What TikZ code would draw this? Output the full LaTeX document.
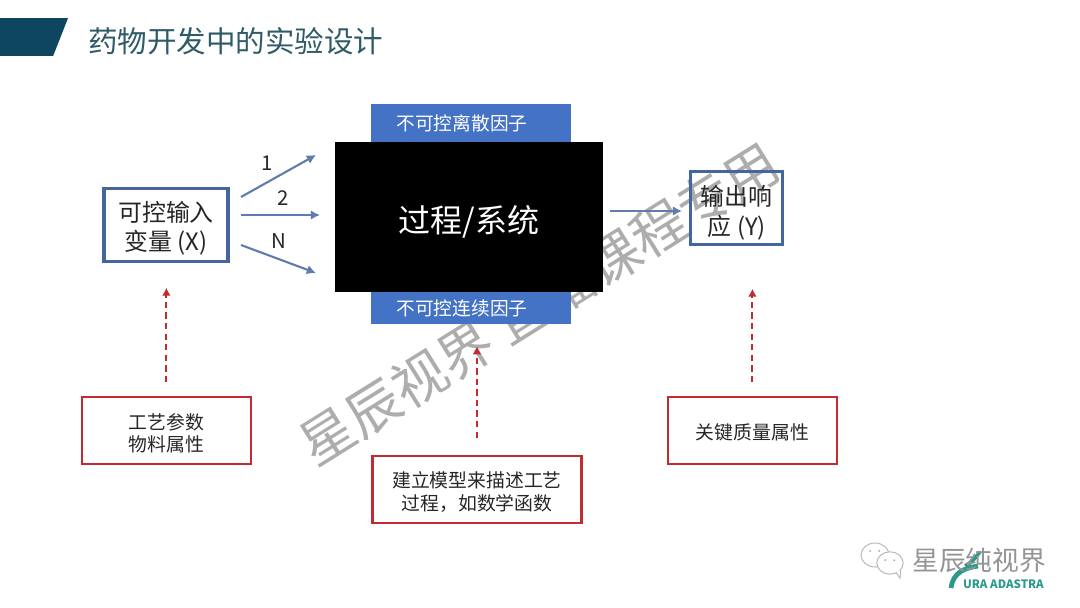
\documentclass[tikz,border=0pt]{standalone}
\usepackage{fontspec}
\setmainfont{Noto Sans CJK SC}
\usetikzlibrary{arrows.meta,calc,positioning}
\definecolor{Banner}{HTML}{0E4560}
\definecolor{TitleInk}{HTML}{2F5A68}
\definecolor{Frame}{HTML}{44659E}
\definecolor{Band}{HTML}{4472C4}
\definecolor{Alert}{HTML}{C22B30}
\definecolor{Ink}{HTML}{262626}
\definecolor{Teal}{HTML}{2B9A8C}
\tikzset{
  flowarrow/.style={-{Latex[length=2.3mm,width=2.4mm]},line width=1.5pt,draw=Frame!85},
  hintarrow/.style={-{Latex[length=2mm,width=2.2mm]},line width=1.5pt,draw=Alert,dash pattern=on 4.5pt off 3pt},
  framebox/.style={draw=Frame,line width=2.2pt,align=center,text=Ink,font=\fontsize{17}{21}\selectfont,inner sep=0pt},
  bandbox/.style={fill=Band,text=white,minimum width=5cm,font=\fontsize{13.3}{16}\selectfont,inner sep=0pt},
  hintbox/.style={draw=Alert,line width=1.6pt,align=center,text=Ink,font=\fontsize{13.4}{16}\selectfont,inner sep=0pt,minimum height=1.67cm},
  countlabel/.style={text=Ink,font=\fontsize{14.5}{17}\selectfont,inner sep=0pt},
  watermark/.style={text=black!32,font=\fontsize{38.5}{44}\selectfont,rotate=32,inner sep=0pt},
  bubble/.style={draw=black!28,line width=0.7pt,fill=white},
}
\begin{document}
\begin{tikzpicture}[x=1cm,y=1cm]
    \useasboundingbox (0,0) rectangle (27,15.175);
    % stamp lies under the blocks
    \node[watermark] (stamp) at (13.48,7.58) {星辰视界 直播课程专用};

    % header
    \fill[Banner] (0,14.72) -- (1.7,14.72) -- (1.33,13.78) -- (0,13.78) -- cycle;
    \node[anchor=west,text=TitleInk,inner sep=0pt,font=\fontsize{21}{25}\selectfont] (title) at (2.2,14.15) {药物开发中的实验设计};

    % process block
    \node[bandbox,minimum height=0.95cm] (upper) at (11.775,12.1) {不可控离散因子\rule{0.45cm}{0pt}};
    \node[bandbox,minimum height=0.8cm] (lower) at (11.775,7.475) {不可控连续因子\rule{0.45cm}{0pt}};
    \node[fill=black,text=white,inner sep=0pt,minimum width=6.7cm,minimum height=3.75cm,font=\fontsize{22.8}{27}\selectfont] (process) at (11.725,9.75) {\rule{0pt}{26pt}过程/系统};

    % input and output
    \node[framebox,minimum width=3.1cm,minimum height=1.82cm] (input) at (4.15,9.55) {\rule{0pt}{19pt}可控输入\\变量 (X)};
    \node[framebox,minimum width=2.3cm,minimum height=1.82cm] (output) at (18.42,9.975) {\rule{0pt}{21pt}输出响\\应 (Y)};

    \coordinate (in1s) at (6.025,10.25);
    \coordinate (in1e) at (7.9,11.3);
    \coordinate (in2s) at (6.025,9.8);
    \coordinate (in2e) at (8.0,9.8);
    \coordinate (in3s) at (6.025,9.05);
    \coordinate (in3e) at (7.9,8.35);
    \coordinate (outy) at (15.2,9.9);
    \draw[flowarrow] (in1s) -- (in1e);
    \draw[flowarrow] (in2s) -- (in2e);
    \draw[flowarrow] (in3s) -- (in3e);
    \draw[flowarrow,shorten <=0.18cm,shorten >=0.18cm] (process.east |- outy) -- (output.west |- outy);
    \node[countlabel] (one) at (6.68,11.1) {1};
    \node[countlabel] (two) at (7.07,10.22) {2};
    \node[countlabel] (enn) at (6.98,9.14) {N};

    % red notes
    \node[hintbox,minimum width=4.22cm] (params) at (4.16,4.41) {\rule{0pt}{15pt}工艺参数\\物料属性};
    \node[hintbox,minimum width=5.22cm] (model) at (11.925,2.94) {\rule{0pt}{15pt}建立模型来描述工艺\\过程，如数学函数};
    \node[hintbox,minimum width=4.22cm] (quality) at (18.81,4.41) {\rule{0pt}{14pt}关键质量属性};
    \draw[hintarrow,shorten <=0.35cm,shorten >=0.62cm] (params.north) -- (params.north |- input.south);
    \draw[hintarrow,shorten <=0.425cm,shorten >=0.55cm] (model.north) -- (model.north |- lower.south);
    \draw[hintarrow,shorten <=0.35cm,shorten >=1.07cm] (quality.north) -- (quality.north |- output.south);

    % corner marks
    \draw[bubble] (21.875,1.3) ellipse (0.35 and 0.3);
    \fill[black!35] (21.75,1.4) circle (0.025) (21.98,1.4) circle (0.025);
    \draw[bubble] (22.25,1.1) ellipse (0.33 and 0.28);
    \fill[black!35] (22.13,1.17) circle (0.025) (22.36,1.17) circle (0.025);
    \draw[bubble] (22.4,0.87) -- (22.5,0.72) -- (22.52,0.93);
    \draw[Teal,line width=3.4pt] (23.775,0.475) .. controls (23.825,0.875) and (24.125,0.975) .. (24.45,1.025);
    \draw[Teal,line width=2.5pt] (24.125,1.03) .. controls (24.3,1.1) and (24.4,1.25) .. (24.5,1.38);
    \node[anchor=west,text=black!42,inner sep=0pt,font=\fontsize{19}{23}\selectfont] (brand) at (22.8,1.175) {星辰纯视界};
    \node[anchor=west,text=Teal,inner sep=0pt,font=\fontsize{8.2}{10}\selectfont\bfseries] (fura) at (24.07,0.58) {URA ADASTRA};
  \end{tikzpicture}
\end{document}
